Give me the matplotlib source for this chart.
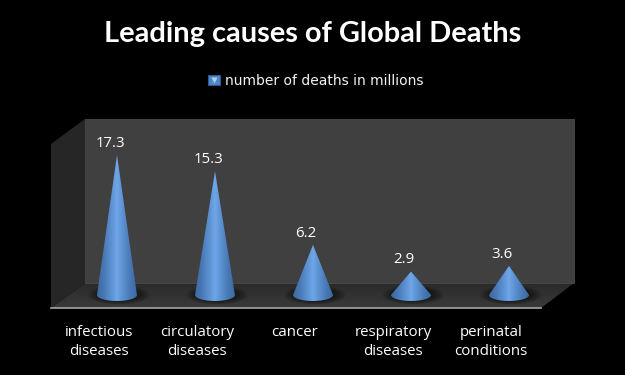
import numpy as np
import matplotlib
matplotlib.use('Agg')
from matplotlib import pyplot as plt
from matplotlib.patches import Polygon, Ellipse, Patch
from matplotlib.lines import Line2D
from matplotlib.legend_handler import HandlerTuple
from matplotlib.colors import LinearSegmentedColormap

causes = ['infectious\ndiseases', 'circulatory\ndiseases', 'cancer', 'respiratory\ndiseases', 'perinatal\nconditions']
deaths = [17.3, 15.3, 6.2, 2.9, 3.6]

W, H = 625, 375
fig = plt.figure(figsize=(W/100, H/100), dpi=100, facecolor='black')

# fundo em pixels: paredes e piso do "3D"
bg = fig.add_axes([0, 0, 1, 1])
bg.set_xlim(0, W)
bg.set_ylim(H, 0)
bg.axis('off')
bg.add_patch(Polygon([(85, 119), (574, 119), (574, 283), (85, 283)], fc='#404040', ec='#4a4a4a', lw=0.6))
bg.add_patch(Polygon([(51, 144), (85, 119), (85, 283), (51, 308)], fc='#262626', ec='none'))
piso = Polygon([(51, 308), (85, 283), (574, 283), (541, 308)], fc='none', ec='none')
bg.add_patch(piso)
floor_cm = LinearSegmentedColormap.from_list('floor', ['#2a2a2a', '#3a3a3a'])
fl = bg.imshow(np.linspace(0, 1, 64).reshape(-1, 1), cmap=floor_cm, extent=[51, 574, 308, 283], aspect='auto')
fl.set_clip_path(piso)
bg.set_xlim(0, W)
bg.set_ylim(H, 0)
bg.plot([51, 541], [308, 308], color='#a6a6a6', lw=1.2)

# eixo real: categoria i -> 117+98i px, valor 0 -> y=295 px, 8.1 px por unidade
x0, x1 = 117-49, 117+98*4+49
ymin, ymax = -1.6, 20
ax = fig.add_axes([x0/W, 1-(295-ymin*8.1)/H, (x1-x0)/W, (ymax-ymin)*8.1/H])
ax.patch.set_alpha(0)
for s in ax.spines.values():
    s.set_visible(False)
ax.set_yticks([])
ax.set_xticks([])

cone = LinearSegmentedColormap.from_list('cone', ['#3a6aa3', '#4878b5', '#5a8fce', '#6ea6e8', '#5a8fce', '#4878b5', '#3a6aa3'])
grad = np.linspace(0, 1, 256).reshape(1, -1)
hw = 20/98        # meia largura da base
eh = 6/8.1        # meia altura da elipse da base

for i, v in enumerate(deaths):
    # sombra no piso, em camadas para ficar suave
    for k in range(8):
        ax.add_patch(Ellipse((i+0.02, 0), 2*hw*(1.55-k*0.07), 2*eh*(1.6-k*0.08), fc='black', ec='none', alpha=0.065, zorder=1))
    t = np.linspace(np.pi, 2*np.pi, 40)
    verts = [(i, v)] + [(i+hw*np.cos(a), eh*np.sin(a)) for a in t] + [(i, v)]
    clip = Polygon(verts, transform=ax.transData, fc='none', ec='none')
    ax.add_patch(clip)
    im = ax.imshow(grad, cmap=cone, extent=[i-hw, i+hw, -eh, v], aspect='auto', zorder=2)
    im.set_clip_path(clip)
    ax.text(i-0.07, v+0.5, str(v), color='white', ha='center', va='bottom', fontsize=10.8, family='Open Sans', zorder=3)

ax.set_xlim(-0.5, 4.5)
ax.set_ylim(ymin, ymax)

for i, c in enumerate(causes):
    ax.annotate(c, (i, 0), xytext=(-13, -21.5), textcoords='offset points', color='white', ha='center', va='top',
                fontsize=10.8, family='Open Sans', linespacing=1.38, annotation_clip=False)

fig.text(313/W, 1-34/H, 'Leading causes of Global Deaths', color='white', fontsize=20.9, fontweight='bold', family='Lato', ha='center', va='center')

quad = Patch(fc='#4f86c6', ec='#2c5a8f', lw=0.8)
tri = Line2D([], [], ls='none', marker='v', ms=4, mfc='#a9cdf5', mec='none')
leg = fig.legend(handles=[(quad, tri)], labels=['number of deaths in millions'],
                 handler_map={tuple: HandlerTuple(ndivide=1, pad=0)},
                 loc='center', bbox_to_anchor=(316/W, 1-81/H), frameon=False, labelcolor='#f2f2f2',
                 prop={'family': 'DejaVu Sans', 'size': 10}, handlelength=0.8, handleheight=0.8, handletextpad=0.4)

fig.savefig('out.png', dpi=100, facecolor='black')
